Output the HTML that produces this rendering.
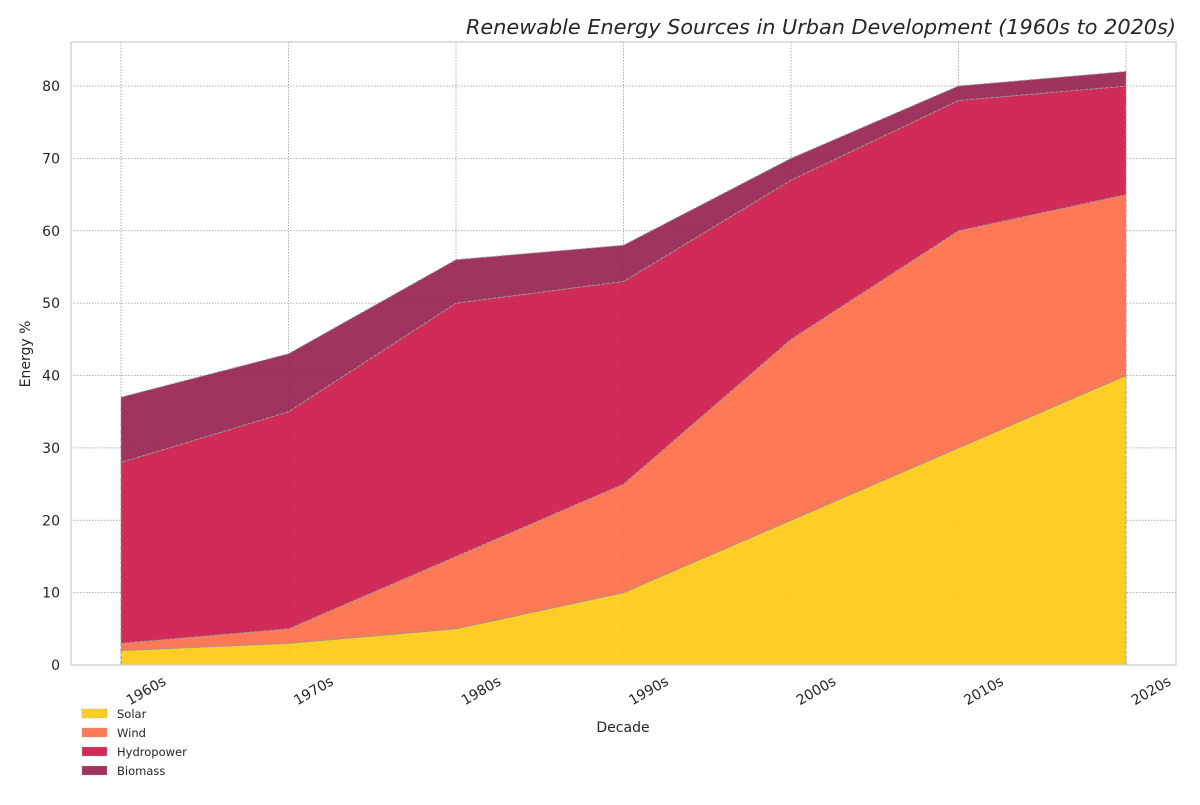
<!DOCTYPE html>
<html><head><meta charset="utf-8"><style>
body{margin:0;background:#fff;font-family:"Liberation Sans","DejaVu Sans",sans-serif;}
svg text{font-family:"DejaVu Sans","Liberation Sans",sans-serif;}
</style></head><body>
<svg id="chart" width="1200" height="800" viewBox="0 0 1200 800" xmlns="http://www.w3.org/2000/svg">
<text x="1176" y="34" text-anchor="end" font-size="20.8" font-style="italic" fill="#262626">Renewable Energy Sources in Urban Development (1960s to 2020s)</text>
<g id="grid"></g>
<g id="areas"></g>
<rect x="71" y="42" width="1105" height="623" fill="none" stroke="#cccccc" stroke-width="1.2"/>
<g id="axes"></g>
<text x="623" y="732" text-anchor="middle" font-size="14" fill="#262626">Decade</text>
<text transform="translate(30,354) rotate(-90)" text-anchor="middle" font-size="14" fill="#262626">Energy %</text>
<g id="legend"></g>
</svg>
<script>
const categories = ["1960s","1970s","1980s","1990s","2000s","2010s","2020s"];
const solar = [2,3,5,10,20,30,40];
const wind = [1,2,10,15,25,30,25];
const hydro = [25,30,35,28,22,18,15];
const biomass = [9,8,6,5,3,2,2];
const seriesNames = ["Solar","Wind","Hydropower","Biomass"];
const yTicks = [0,10,20,30,40,50,60,70,80];

const NS="http://www.w3.org/2000/svg";
const colors=["#ffc90e","#ff6a45","#cc1448","#951e4e"];
const X0=121,X1=1126,Y0=665,YT=42,YMAX=86.08;
const xs=i=>X0+(X1-X0)*i/(categories.length-1);
const ys=v=>Y0-(Y0-YT)*v/YMAX;
function mk(t,a,p){const e=document.createElementNS(NS,t);for(const k in a)e.setAttribute(k,a[k]);p.appendChild(e);return e;}
const grid=document.getElementById('grid'),areas=document.getElementById('areas'),axes=document.getElementById('axes'),legend=document.getElementById('legend');
yTicks.forEach(v=>{
 const l=mk('line',{x1:71,x2:1176,y1:ys(v),y2:ys(v),stroke:'#999',"stroke-width":0.8,"stroke-dasharray":"1.5,1.5"},grid);
 
 
 const t=mk('text',{x:60,y:ys(v)+5,"text-anchor":"end","font-size":14,fill:"#262626"},axes);t.textContent=v;
 
 
});
categories.forEach((c,i)=>{
 const l=mk('line',{x1:xs(i),x2:xs(i),y1:42,y2:665,stroke:'#999',"stroke-width":0.8,"stroke-dasharray":"1.5,1.5"},grid);
 
 
 const t=mk('text',{transform:`translate(${xs(i)+46},${684}) rotate(-30)`,"text-anchor":"end","font-size":14,fill:"#262626"},axes);t.textContent=c;
 
 
});
const series=[solar,wind,hydro,biomass];
let base=categories.map(()=>0);
series.forEach((s,k)=>{
 const top=base.map((b,i)=>b+s[i]);
 let d='M'+top.map((v,i)=>xs(i)+','+ys(v)).join(' L');
 for(let i=categories.length-1;i>=0;i--)d+=' L'+xs(i)+','+ys(base[i]);
 d+='Z';
 const p=mk('path',{d,fill:colors[k],"fill-opacity":0.9,stroke:'#999',"stroke-width":1,"stroke-dasharray":"3,2"},areas);
 
 
 base=top;
});
seriesNames.forEach((n,k)=>{
 const y=714+k*19;
 const r=mk('rect',{x:82,y:y-5,width:25,height:9,fill:colors[k],"fill-opacity":0.9,stroke:'#aaa',"stroke-width":0.6,"stroke-dasharray":"2,1"},legend);
 
 
 const t=mk('text',{x:117,y:y+4,"font-size":11.5,fill:"#262626"},legend);t.textContent=n;
 
 
});
</script>
</body></html>
